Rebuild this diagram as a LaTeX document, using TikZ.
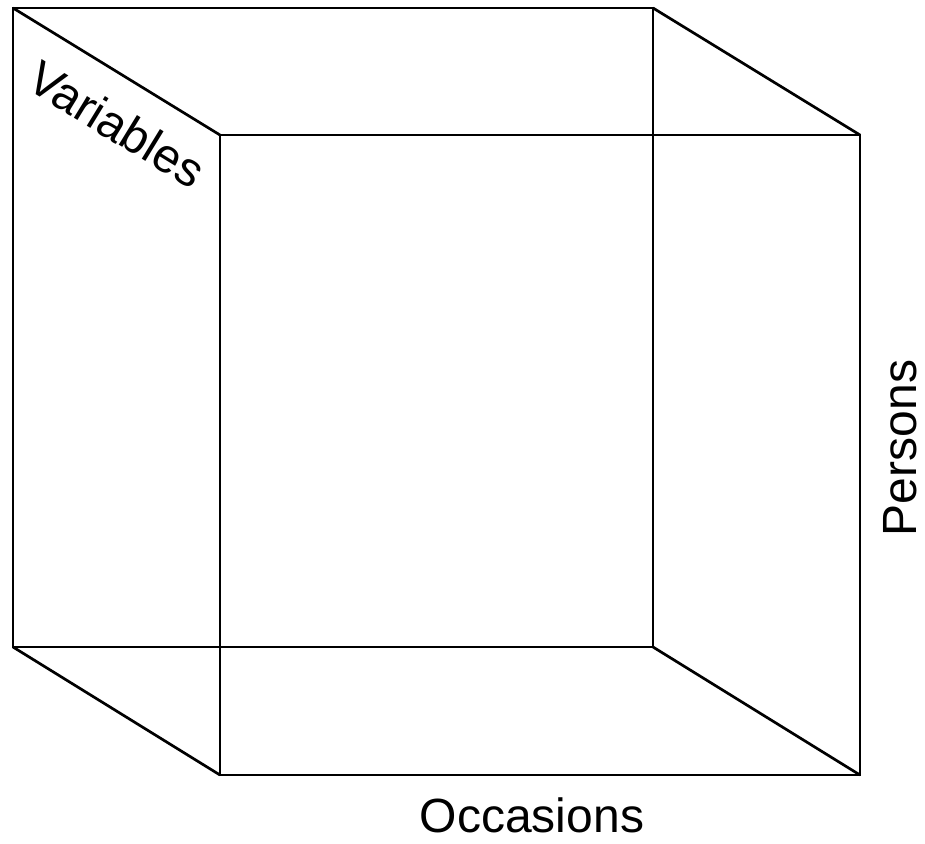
\documentclass[tikz,border=0pt]{standalone}
\usepackage{fontspec}
\setmainfont{Liberation Sans}
\begin{document}
\begin{tikzpicture}[
    edge/.style={line width=2.7pt, line join=miter},
    lbl/.style={font=\fontsize{48}{56}\selectfont, inner sep=0pt},
    x=1pt, y=-1pt
  ]
  \useasboundingbox (0,0) rectangle (925,843);
  % back face corners
  \coordinate (b1) at (13, 8);
  \coordinate (b2) at (653, 8);
  \coordinate (b3) at (653, 647);
  \coordinate (b4) at (13, 647);
  % front face corners
  \coordinate (f1) at (220, 135);
  \coordinate (f2) at (860, 135);
  \coordinate (f3) at (860, 775);
  \coordinate (f4) at (220, 775);
  % faces
  \draw[edge] (b1) -- (b2) -- (b3) -- (b4) -- cycle;
  \draw[edge] (f1) -- (f2) -- (f3) -- (f4) -- cycle;
  % depth edges
  \foreach \i in {1,...,4} {
    \draw[edge] (b\i) -- (f\i);
  }
  % labels
  \node[lbl, rotate=-31.5] (vars) at (117, 124) {Variables};
  \node[lbl, rotate=90] (pers) at (900, 448) {Persons};
  \node[lbl] (occ) at (532, 815) {Occasions};
\end{tikzpicture}
\end{document}
